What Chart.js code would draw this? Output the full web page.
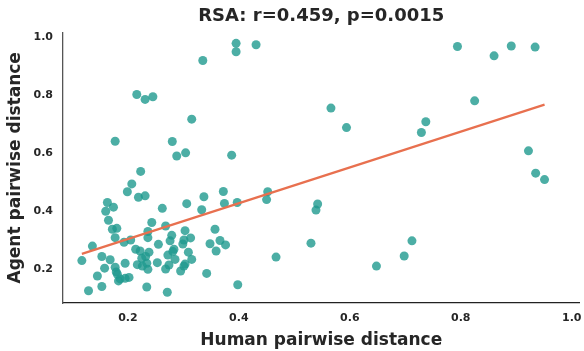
<!DOCTYPE html>
<html>
<head>
<meta charset="utf-8">
<script src="https://cdn.jsdelivr.net/npm/chart.js@4/dist/chart.umd.min.js"></script>
<style>
  body { margin: 0; background: #fff; }
  #wrap { width: 584px; height: 351px; }
</style>
</head>
<body>
<div id="wrap"><canvas id="rsaChart" width="584" height="351"></canvas></div>
<script>
// Human vs agent pairwise distances
const humanDist = [
  0.395, 0.395, 0.431, 0.335, 0.216, 0.231, 0.245, 0.315, 0.177, 0.280,
  0.304, 0.288, 0.387, 0.223, 0.566, 0.594, 0.737, 0.729, 0.794, 0.860,
  0.891, 0.934, 0.825, 0.922, 0.935, 0.951, 0.452, 0.450, 0.542, 0.539,
  0.530, 0.467, 0.648, 0.698, 0.712, 0.398, 0.207, 0.199, 0.219, 0.231,
  0.163, 0.174, 0.160, 0.262, 0.306, 0.337, 0.372, 0.374, 0.397, 0.333,
  0.165, 0.243, 0.172, 0.180, 0.268, 0.236, 0.177, 0.205, 0.193, 0.236,
  0.279, 0.276, 0.303, 0.313, 0.301, 0.357, 0.366, 0.376, 0.348, 0.359,
  0.136, 0.255, 0.299, 0.214, 0.222, 0.238, 0.283, 0.281, 0.309, 0.153,
  0.168, 0.195, 0.225, 0.232, 0.234, 0.217, 0.226, 0.272, 0.285, 0.253,
  0.274, 0.268, 0.315, 0.303, 0.301, 0.295, 0.117, 0.158, 0.177, 0.179,
  0.181, 0.186, 0.183, 0.145, 0.195, 0.202, 0.236, 0.342, 0.153, 0.129,
  0.234, 0.271
];
const agentDist = [
  0.977, 0.948, 0.972, 0.918, 0.801, 0.784, 0.793, 0.716, 0.640, 0.639,
  0.600, 0.589, 0.592, 0.536, 0.754, 0.687, 0.707, 0.670, 0.966, 0.934,
  0.968, 0.964, 0.779, 0.607, 0.530, 0.508, 0.466, 0.439, 0.424, 0.403,
  0.289, 0.241, 0.210, 0.245, 0.297, 0.146, 0.493, 0.466, 0.447, 0.452,
  0.429, 0.413, 0.399, 0.409, 0.425, 0.449, 0.467, 0.426, 0.429, 0.404,
  0.368, 0.360, 0.337, 0.340, 0.348, 0.329, 0.308, 0.300, 0.292, 0.308,
  0.316, 0.297, 0.332, 0.307, 0.300, 0.337, 0.298, 0.283, 0.287, 0.262,
  0.279, 0.285, 0.286, 0.268, 0.262, 0.258, 0.268, 0.260, 0.258, 0.243,
  0.232, 0.220, 0.237, 0.243, 0.220, 0.215, 0.210, 0.248, 0.233, 0.222,
  0.214, 0.200, 0.233, 0.217, 0.210, 0.193, 0.229, 0.203, 0.206, 0.190,
  0.182, 0.166, 0.159, 0.176, 0.168, 0.171, 0.199, 0.185, 0.140, 0.125,
  0.138, 0.120
];

// Regression line ends
const fitX = [0.117, 0.951];
const fitY = [0.252, 0.766];

const xTicks = [0.2, 0.4, 0.6, 0.8, 1.0];
const yTicks = [0.2, 0.4, 0.6, 0.8, 1.0];

const FONT = "'DejaVu Sans', sans-serif";
const TEXT = '#262626';

const points = humanDist.map((x, i) => ({ x: x, y: agentDist[i] }));
const fitLine = fitX.map((x, i) => ({ x: x, y: fitY[i] }));

new Chart(document.getElementById('rsaChart').getContext('2d'), {
  type: 'scatter',
  data: {
    datasets: [
      {
        type: 'line',
        data: fitLine,
        borderColor: '#e8704f',
        borderWidth: 2.2,
        pointRadius: 0,
        fill: false,
        order: 0
      },
      {
        data: points,
        backgroundColor: 'rgba(31,154,142,0.8)',
        borderWidth: 0,
        pointRadius: 4.5,
        order: 1
      }
    ]
  },
  options: {
    responsive: false,
    animation: false,
    layout: { padding: { right: 4, left: 0, bottom: 0 } },
    plugins: {
      legend: { display: false },
      tooltip: { enabled: false },
      title: {
        display: true,
        fullSize: false,
        text: 'RSA: r=0.459, p=0.0015',
        color: TEXT,
        font: { family: FONT, size: 18, weight: 'bold' },
        padding: { top: 6, bottom: 5 }
      }
    },
    scales: {
      x: {
        type: 'linear',
        min: 0.083,
        max: 1.014,
        grid: { display: false, drawTicks: false },
        border: { display: true, color: '#222', width: 1.3 },
        ticks: {
          color: TEXT,
          padding: 9,
          font: { family: FONT, size: 11, weight: 'bold' },
          callback: v => v.toFixed(1)
        },
        afterBuildTicks: s => { s.ticks = xTicks.map(v => ({ value: v })); },
        afterFit: s => { s.height = 48; s.paddingLeft = 0; s.paddingRight = 0; },
        title: {
          display: true,
          text: 'Human pairwise distance',
          color: TEXT,
          font: { family: FONT, size: 17, weight: 'bold' },
          padding: { top: 0, bottom: 0 }
        }
      },
      y: {
        type: 'linear',
        min: 0.083,
        max: 1.014,
        grid: { display: false, drawTicks: false },
        border: { display: true, color: '#555', width: 1.3 },
        ticks: {
          color: TEXT,
          padding: 10,
          font: { family: FONT, size: 11, weight: 'bold' },
          callback: v => v.toFixed(1)
        },
        afterBuildTicks: s => { s.ticks = yTicks.map(v => ({ value: v })); },
        afterFit: s => { s.width = 63; s.paddingTop = 0; s.paddingBottom = 0; },
        title: {
          display: true,
          text: 'Agent pairwise distance',
          color: TEXT,
          font: { family: FONT, size: 17, weight: 'bold' },
          padding: { top: 5, bottom: 5 }
        }
      }
    }
  }
});
</script>
</body>
</html>
